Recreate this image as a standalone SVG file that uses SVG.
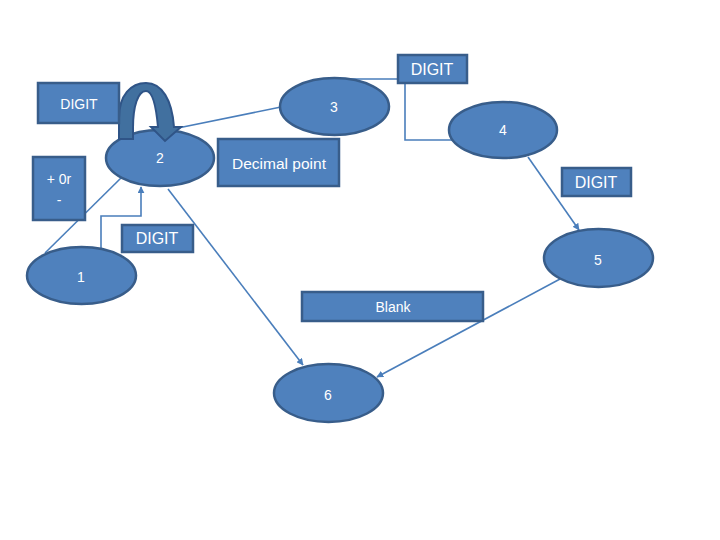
<svg xmlns="http://www.w3.org/2000/svg" width="720" height="540" viewBox="0 0 720 540">
<style>
.node{fill:#4f81bd;stroke:#385d8a;stroke-width:2.5}
.lbl{fill:#4f81bd;stroke:#385d8a;stroke-width:2.5}
.t{fill:#ffffff;font-family:"Liberation Sans",Arial,sans-serif;font-size:14px;text-anchor:middle;dominant-baseline:central}
.tb{font-size:16px}
.c{fill:none;stroke:#4a7ebb;stroke-width:1.6}
</style>
<defs>
<marker id="ah" viewBox="0 0 10 10" refX="9" refY="5" markerWidth="7" markerHeight="7" markerUnits="userSpaceOnUse" orient="auto">
<path d="M0,0 L10,5 L0,10 z" fill="#4a7ebb"/>
</marker>
</defs>
<rect width="720" height="540" fill="#ffffff"/>
<g id="connectors">
<line class="c" x1="45" y1="253" x2="122" y2="177"/>
<polyline class="c" points="101,248 101,216 141,216 141,187" marker-end="url(#ah)"/>
<line class="c" x1="178" y1="128" x2="281" y2="107"/>
<polyline class="c" points="350,79 405,79 405,140 452,140"/>
<line class="c" x1="528" y1="157" x2="579" y2="230" marker-end="url(#ah)"/>
<line class="c" x1="168" y1="189" x2="303" y2="365" marker-end="url(#ah)"/>
<line class="c" x1="560" y1="279" x2="377" y2="377" marker-end="url(#ah)"/>
</g>
<g id="node2">
<ellipse class="node" cx="160" cy="158" rx="54" ry="28"/>
<text class="t" x="160" y="158">2</text>
</g>
<g id="loop2">
<path d="M119,139 L119,118 C119,95 131,83 146,83 C162,83 172,100 174,127 L181,127 L165,141 L151,127 L158,127 C156,105 152,91 146,91 C138,91 133,106 133,128 L133,139 Z" fill="#41709f" stroke="#2f5487" stroke-width="2"/>
</g>
<g id="node3">
<ellipse class="node" cx="334.5" cy="106.5" rx="54.5" ry="28.5"/>
<text class="t" x="334" y="107">3</text>
</g>
<g id="node4">
<ellipse class="node" cx="503" cy="130" rx="54" ry="28"/>
<text class="t" x="503" y="130">4</text>
</g>
<g id="node5">
<ellipse class="node" cx="598.5" cy="258" rx="54.5" ry="29"/>
<text class="t" x="598" y="260">5</text>
</g>
<g id="node1">
<ellipse class="node" cx="81.5" cy="275.5" rx="54.5" ry="28.5"/>
<text class="t" x="81" y="277">1</text>
</g>
<g id="node6">
<ellipse class="node" cx="328.5" cy="393" rx="54.5" ry="29"/>
<text class="t" x="328" y="395">6</text>
</g>
<g id="label-digit-loop">
<rect class="lbl" x="38" y="83" width="81" height="40"/>
<text class="t" x="79" y="104">DIGIT</text>
</g>
<g id="label-sign">
<rect class="lbl" x="33" y="157" width="52" height="63"/>
<text class="t" x="59" y="179">+ 0r</text>
<text class="t" x="59" y="200">-</text>
</g>
<g id="label-digit-top">
<rect class="lbl" x="398" y="55" width="69" height="28"/>
<text class="t tb" x="432" y="69">DIGIT</text>
</g>
<g id="label-decimal">
<rect class="lbl" x="218" y="139" width="121" height="47"/>
<text class="t" x="279" y="163" style="font-size:15.5px">Decimal point</text>
</g>
<g id="label-digit-right">
<rect class="lbl" x="562" y="168" width="69" height="28"/>
<text class="t tb" x="596" y="182">DIGIT</text>
</g>
<g id="label-digit-mid">
<rect class="lbl" x="122" y="225" width="71" height="27"/>
<text class="t tb" x="157" y="238">DIGIT</text>
</g>
<g id="label-blank">
<rect class="lbl" x="302" y="292" width="181" height="29"/>
<text class="t" x="393" y="307">Blank</text>
</g>
</svg>
